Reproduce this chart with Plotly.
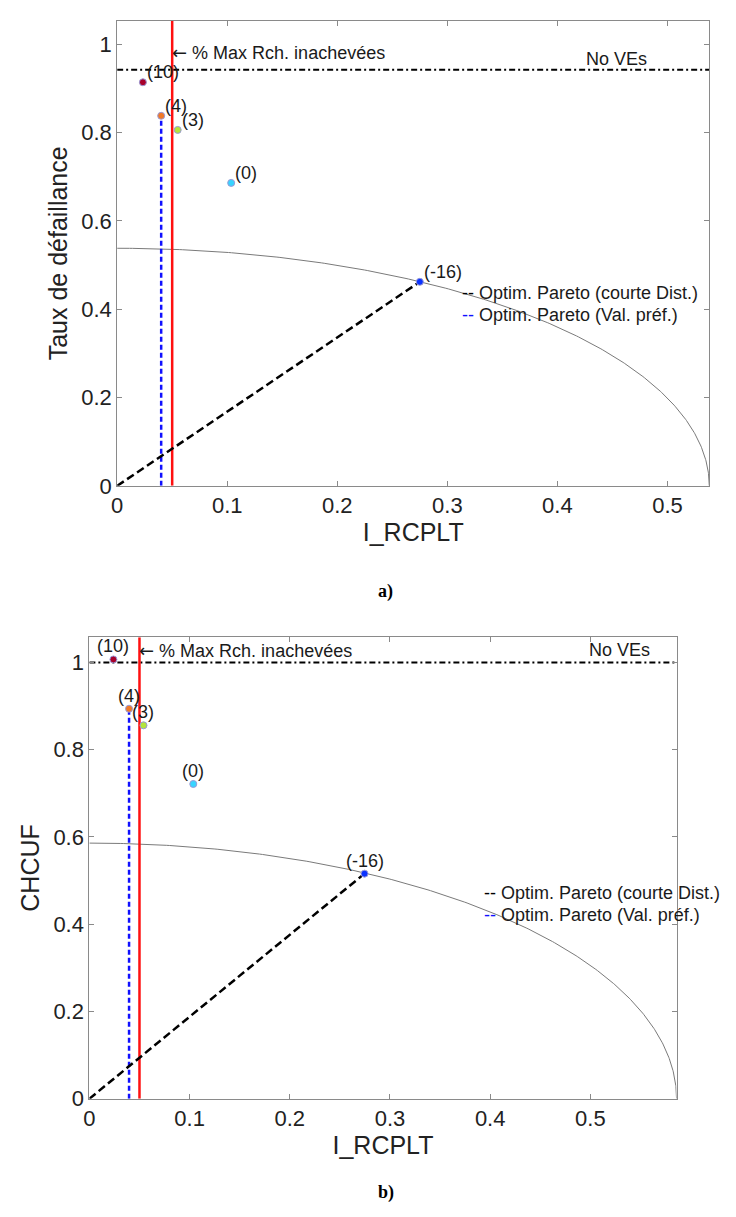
import numpy as np
import plotly.graph_objects as go

# ---------------- data ----------------
scenario_labels = ["(10)", "(4)", "(3)", "(0)", "(-16)"]
marker_colors = ["#a8002a", "#f07a28", "#b4e43c", "#38d4ff", "#0a32ff"]

# panel a
i_rcplt_a = [0.0234, 0.0400, 0.0550, 0.1036, 0.2750]
taux_defaillance = [0.914, 0.838, 0.806, 0.686, 0.462]
no_ves_a = 0.942
pareto_radius_a = 0.538

# panel b
i_rcplt_b = [0.0240, 0.0396, 0.0540, 0.1037, 0.2746]
chcuf = [1.007, 0.894, 0.856, 0.7215, 0.516]
no_ves_b = 1.0
pareto_radius_b = 0.586

max_rch_inachevees = 0.05
pref_index = 1      # scenario (4): preferred value
short_index = 4     # scenario (-16): shortest distance

x_ticks = [0, 0.1, 0.2, 0.3, 0.4, 0.5]
y_ticks = [0, 0.2, 0.4, 0.6, 0.8, 1.0]
y_max_a = 1.053
y_max_b = 1.058

FONT = "Liberation Sans, Arial, sans-serif"
W, H = 736, 1217

fig = go.Figure()


def add_panel(xs, ys, no_ves, radius, ymax, xa, ya):
    t = np.linspace(0, np.pi / 2, 300)
    fig.add_trace(go.Scatter(x=radius * np.cos(t), y=radius * np.sin(t), mode="lines",
                             line=dict(color="#7a7a7a", width=1), xaxis=xa, yaxis=ya,
                             showlegend=False, hoverinfo="skip"))
    fig.add_trace(go.Scatter(x=[0, radius], y=[no_ves, no_ves], mode="lines",
                             line=dict(color="black", width=2, dash="6px,3px,2px,3px"),
                             xaxis=xa, yaxis=ya, showlegend=False))
    fig.add_trace(go.Scatter(x=[max_rch_inachevees, max_rch_inachevees], y=[0, ymax], mode="lines",
                             line=dict(color="#ff1010", width=2.5), xaxis=xa, yaxis=ya,
                             showlegend=False))
    fig.add_trace(go.Scatter(x=[xs[pref_index], xs[pref_index]], y=[0, ys[pref_index]], mode="lines",
                             line=dict(color="#1010ff", width=2.5, dash="5px,3px"),
                             xaxis=xa, yaxis=ya, showlegend=False))
    fig.add_trace(go.Scatter(x=[0, xs[short_index]], y=[0, ys[short_index]], mode="lines",
                             line=dict(color="black", width=2.5, dash="8px,4px"),
                             xaxis=xa, yaxis=ya, showlegend=False))
    fig.add_trace(go.Scatter(x=xs, y=ys, mode="markers",
                             marker=dict(size=7, color=marker_colors,
                                         line=dict(color="#9a9ad8", width=1)),
                             xaxis=xa, yaxis=ya, showlegend=False))


add_panel(i_rcplt_a, taux_defaillance, no_ves_a, pareto_radius_a, y_max_a, "x", "y")
add_panel(i_rcplt_b, chcuf, no_ves_b, pareto_radius_b, y_max_b, "x2", "y2")

ann = []
txt = dict(family=FONT, size=18, color="#1a1a1a")
# point labels panel a
for xv, yv, lab in zip(i_rcplt_a, taux_defaillance, scenario_labels):
    ann.append(dict(x=xv, y=yv, xref="x", yref="y", text=lab, showarrow=False,
                    xanchor="left", yanchor="middle", xshift=2, yshift=10, font=txt))
# point labels panel b
for xv, yv, lab in zip(i_rcplt_b, chcuf, scenario_labels):
    ann.append(dict(x=xv, y=yv, xref="x2", yref="y2", text=lab, showarrow=False,
                    xanchor="center", yanchor="middle", xshift=0, yshift=13, font=txt))

for xr, yr, yarrow, xno, yno, xleg, yleg1, yleg2 in [
        ("x", "y", 0.982, 0.454, 0.966, 0.322, 0.436, 0.387),
        ("x2", "y2", 1.027, 0.529, 1.029, 0.404, 0.4705, 0.421)]:
    ann.append(dict(x=max_rch_inachevees, y=yarrow, xref=xr, yref=yr,
                    text='<span style="font-family:DejaVu Sans">\u2190</span> % Max Rch. inachevées',
                    showarrow=False, xanchor="left", yanchor="middle", xshift=-2, font=txt))
    ann.append(dict(x=xno, y=yno, xref=xr, yref=yr, text="No VEs", showarrow=False,
                    xanchor="center", yanchor="middle", font=txt))
    ann.append(dict(x=xleg, y=yleg1, xref=xr, yref=yr,
                    text='<span style="color:black">--</span> Optim. Pareto (courte Dist.)',
                    showarrow=False, xanchor="left", yanchor="middle", xshift=-12, font=txt))
    ann.append(dict(x=xleg, y=yleg2, xref=xr, yref=yr,
                    text='<span style="color:#1010ff">--</span> Optim. Pareto (Val. préf.)',
                    showarrow=False, xanchor="left", yanchor="middle", xshift=-12, font=txt))

serif = dict(family="Liberation Serif, Times New Roman, serif", size=18, color="black")
ann.append(dict(x=375 / W, y=1 - 590 / H, xref="paper", yref="paper", text="<b>a)</b>",
                showarrow=False, xanchor="center", yanchor="middle", font=serif))
ann.append(dict(x=375 / W, y=1 - 1197 / H, xref="paper", yref="paper", text="<b>b)</b>",
                showarrow=False, xanchor="center", yanchor="middle", font=serif))

axis_common = dict(showgrid=False, zeroline=False, showline=True, linecolor="#8a8a8a",
                   linewidth=1, mirror="ticks", ticks="inside", ticklen=5, tickwidth=1,
                   tickcolor="#8a8a8a", tickfont=dict(family=FONT, size=22, color="#222"))
title_font = dict(family=FONT, size=25, color="#222")

fig.update_layout(
    width=W, height=H, margin=dict(l=0, r=0, t=0, b=0),
    paper_bgcolor="white", plot_bgcolor="white", showlegend=False,
    annotations=ann,
    xaxis=dict(domain=[104 / W, 701 / W], range=[0, pareto_radius_a], tickvals=x_ticks,
               ticktext=["0", "0.1", "0.2", "0.3", "0.4", "0.5"], anchor="y",
               title=dict(text="I_RCPLT", font=title_font, standoff=2),
               **axis_common),
    yaxis=dict(domain=[1 - 483 / H, 1 - 13 / H], range=[0, y_max_a], tickvals=y_ticks,
               ticktext=["0", "0.2", "0.4", "0.6", "0.8", "1"], anchor="x",
               title=dict(text="Taux de défaillance", font=title_font, standoff=6),
               **axis_common),
    xaxis2=dict(domain=[76 / W, 668 / W], range=[0, pareto_radius_b], tickvals=x_ticks,
                ticktext=["0", "0.1", "0.2", "0.3", "0.4", "0.5"], anchor="y2",
                title=dict(text="I_RCPLT", font=title_font, standoff=2),
                **axis_common),
    yaxis2=dict(domain=[1 - 1102.5 / H, 1 - 636 / H], range=[0, y_max_b], tickvals=y_ticks,
                ticktext=["0", "0.2", "0.4", "0.6", "0.8", "1"], anchor="x2",
                title=dict(text="CHCUF", font=title_font, standoff=6),
                **axis_common),
)

fig.write_html("out.html")
